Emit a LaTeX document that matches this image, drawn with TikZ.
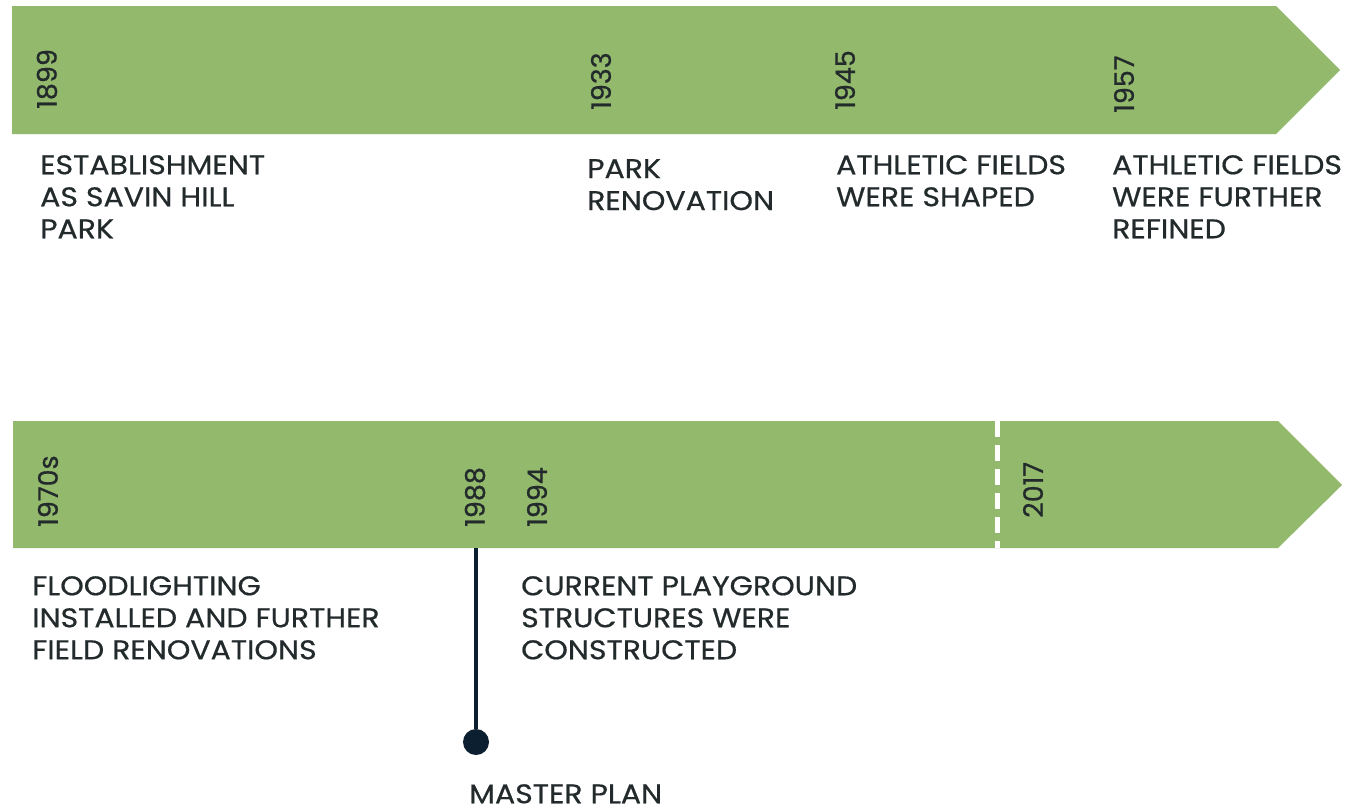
\documentclass[tikz,border=0pt]{standalone}
\usepackage{fontspec}
\setmainfont{Poppins}[FakeStretch=1.11, FakeBold=0.6]
\newfontfamily\yearfont{Poppins}[FakeBold=0.6]
\definecolor{bandgreen}{HTML}{93B96C}
\definecolor{inkdark}{HTML}{232A2C}
\definecolor{pinnavy}{HTML}{0B1F30}
\begin{document}
\begin{tikzpicture}[x=1pt,y=-1pt]

\def\fsize{\fontsize{27}{32}\selectfont}

\tikzset{year/.style = {rotate=90, anchor=west, inner sep=0pt, text=inkdark, font=\yearfont\fsize}}
\tikzset{event/.style = {anchor=north west, align=left, inner sep=0pt, text=inkdark, font=\fsize}}
\tikzset{band/.style = {fill=bandgreen, draw=none}}

\useasboundingbox (0,0) rectangle (1349,809);

% top band
\fill[band] (12,6) -- (1276,6) -- (1340,70) -- (1276,134) -- (12,134) -- cycle;
% bottom band
\fill[band] (13,421) -- (1278,421) -- (1342,485) -- (1278,548) -- (13,548) -- cycle;
\draw[white, line width=5pt, dash pattern=on 16pt off 8pt] (997,421) -- (997,548);

\node[year] (y1899) at (47,109) {1899};
\node[year] (y1933) at (601,110) {1933};
\node[year] (y1945) at (845,110) {1945};
\node[year] (y1957) at (1124,113) {1957};

\node[year] (y1970) at (48,527) {1970s};
\node[year] (y1988) at (475,527) {1988};
\node[year] (y1994) at (537,527) {1994};
\node[year] (y2017) at (1033,518) {2017};

\node[event] (e1899) at (40,155) {ESTABLISHMENT\\AS SAVIN HILL\\PARK};
\node[event] (e1933) at (587,159) {PARK\\RENOVATION};
\node[event] (e1945) at (836,155) {ATHLETIC FIELDS\\WERE SHAPED};
\node[event] (e1957) at (1112,155) {ATHLETIC FIELDS\\WERE FURTHER\\REFINED};

\node[event] (e1970) at (32,576) {FLOODLIGHTING\\INSTALLED AND FURTHER\\FIELD RENOVATIONS};
\node[event] (e1994) at (521,576) {CURRENT PLAYGROUND\\STRUCTURES WERE\\CONSTRUCTED};

\coordinate (pin) at (476,548);
\node[circle, fill=pinnavy, minimum size=26pt, inner sep=0pt] (dot) at (476,742) {};
\draw[pinnavy, line width=4pt] (pin) -- (dot);
\node[event, text depth=0pt] (e1988) at (469,784) {MASTER PLAN};

\end{tikzpicture}
\end{document}
